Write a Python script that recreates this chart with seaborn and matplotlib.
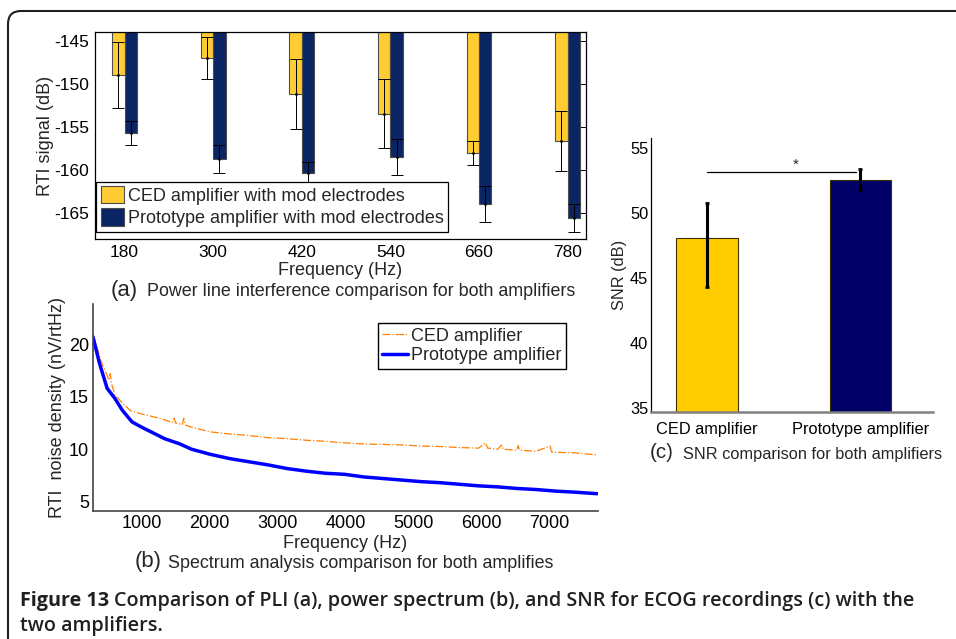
import matplotlib
matplotlib.use('Agg')
import pandas as pd
import matplotlib.pyplot as plt
import seaborn as sns
from matplotlib.patches import FancyBboxPatch
from matplotlib.transforms import IdentityTransform

# (a) power line interference, RTI signal in dB
freqs = ['180', '300', '420', '540', '660', '780']
ced_rti = [-149.0, -147.05, -151.2, -153.45, -158.05, -156.65]
ced_rti_err = [3.8, 2.45, 4.1, 4.0, 1.4, 3.5]
proto_rti = [-155.7, -158.7, -160.3, -158.45, -163.95, -165.6]
proto_rti_err = [1.35, 1.65, 1.2, 2.1, 2.1, 1.6]
pli_labels = ['CED amplifier with mod electrodes', 'Prototype amplifier with mod electrodes']

# (b) noise density spectrum (nV/rtHz)
ced_hz = [285, 408, 470, 520, 538, 560, 606, 718, 831, 1000, 1169, 1338, 1450, 1479, 1500,
          1600, 1620, 1645, 1732, 2014, 2296, 2578, 2859, 3141, 3423, 3704, 3986, 4268, 4549,
          4831, 5113, 5394, 5676, 5958, 6060, 6090, 6240, 6296, 6320, 6521, 6540, 6560, 6803,
          7011, 7030, 7085, 7366, 7704]
ced_noise = [21.0, 18.3, 17.4, 16.6, 17.2, 16.2, 15.2, 14.4, 13.7, 13.35, 13.1, 12.8, 12.55, 12.95, 12.5,
             12.35, 12.95, 12.3, 12.1, 11.65, 11.45, 11.3, 11.1, 11.0, 10.85, 10.75, 10.6, 10.5, 10.45,
             10.4, 10.3, 10.25, 10.15, 10.1, 10.6, 10.1, 10.0, 10.4, 10.0, 9.9, 10.35, 9.9, 9.8,
             10.3, 9.75, 9.7, 9.65, 9.45]
proto_hz = [285, 380, 493, 606, 718, 859, 1000, 1169, 1338, 1563, 1732, 2014, 2296, 2578, 2859,
            3141, 3423, 3704, 3986, 4268, 4549, 4831, 5113, 5394, 5676, 5958, 6240, 6521, 6803,
            7085, 7366, 7704]
proto_noise = [20.7, 18.2, 15.8, 14.85, 13.7, 12.6, 12.1, 11.55, 11.0, 10.5, 10.0, 9.5, 9.1, 8.8, 8.5,
               8.15, 7.9, 7.7, 7.6, 7.35, 7.2, 7.05, 6.9, 6.8, 6.65, 6.5, 6.4, 6.25, 6.15,
               6.0, 5.9, 5.75]
spec_labels = ['CED amplifier', 'Prototype amplifier']

# (c) SNR
snr_groups = ['CED amplifier', 'Prototype amplifier']
snr_db = [48.08, 52.56]
snr_err_low = [3.73, 0.8]
snr_err_high = [2.69, 0.82]
sig_level = 53.15

W, H = 956, 639
TXT = '#231f20'

sns.set_style('white')
plt.rcParams['font.family'] = ['Liberation Sans', 'DejaVu Sans']
plt.rcParams['axes.unicode_minus'] = False

fig = plt.figure(figsize=(W / 100, H / 100), dpi=100)


def px_axes(left, right, top, bottom):
    return fig.add_axes([left / W, 1 - bottom / H, (right - left) / W, (bottom - top) / H])


# ---------- panel (a)
ax_a = px_axes(95, 586, 32, 239)
pli = pd.DataFrame({
    'freq': freqs * 2,
    'amp': [pli_labels[0]] * len(freqs) + [pli_labels[1]] * len(freqs),
    'rti': ced_rti + proto_rti,
    'err': ced_rti_err + proto_rti_err,
})
sns.barplot(data=pli, x='freq', y='rti', hue='amp', hue_order=pli_labels,
            palette=['#ffcc33', '#0b2464'], width=0.28, saturation=1, errorbar=None,
            edgecolor='#4d4d4d', linewidth=0.8, legend=False, ax=ax_a)
for cont, lab in zip(ax_a.containers, pli_labels):
    sub = pli[pli['amp'] == lab]
    xs = [p.get_x() + p.get_width() / 2 for p in cont.patches]
    ax_a.errorbar(xs, sub['rti'], yerr=sub['err'], fmt='.', ms=2, color='k',
                  elinewidth=0.7, capsize=4.3, capthick=0.7, zorder=3)
ax_a.set_ylim(-168, -144)
ax_a.set_yticks([-165, -160, -155, -150, -145])
ax_a.set_xlim(-0.333, 5.207)
ax_a.tick_params(direction='in', length=4, width=0.7, top=True, right=True,
                 labelsize=12.5, pad=4, colors='k')
for s in ax_a.spines.values():
    s.set_visible(True)
    s.set_color('k')
    s.set_linewidth(0.9)
ax_a.set_xlabel('Frequency (Hz)', fontsize=13, labelpad=2)
ax_a.set_ylabel('RTI signal (dB)', fontsize=13, labelpad=0)
ax_a.legend(ax_a.containers, pli_labels, loc='lower left', bbox_to_anchor=(0.003, 0.035),
            borderaxespad=0, fontsize=13, frameon=True, fancybox=False, edgecolor='k',
            framealpha=1, handlelength=1.25, handleheight=1.1, handletextpad=0.25,
            borderpad=0.25, labelspacing=0.2)
ax_a.get_legend().get_frame().set_linewidth(0.9)

# ---------- panel (b)
ax_b = px_axes(93, 598, 304, 511)
sns.lineplot(x=ced_hz, y=ced_noise, color='#ff8000', lw=0.9, linestyle='-.',
             label=spec_labels[0], ax=ax_b)
sns.lineplot(x=proto_hz, y=proto_noise, color='#0000ff', lw=2.5,
             label=spec_labels[1], ax=ax_b)
ax_b.set_xlim(285, 7715)
ax_b.set_ylim(4.1, 23.85)
ax_b.set_xticks(range(1000, 8000, 1000))
ax_b.set_yticks([5, 10, 15, 20])
ax_b.tick_params(direction='in', length=4, width=0.7, labelsize=13, pad=3, colors='k')
for side in ['top', 'right']:
    ax_b.spines[side].set_visible(False)
for side in ['left', 'bottom']:
    ax_b.spines[side].set_color('#444444')
    ax_b.spines[side].set_linewidth(1.2)
ax_b.set_xlabel('Frequency (Hz)', fontsize=13, labelpad=2)
ax_b.set_ylabel('RTI  noise density (nV/rtHz)', fontsize=13, labelpad=2)
ax_b.legend(loc='upper left', bbox_to_anchor=(0.564, 0.908), borderaxespad=0,
            fontsize=13, frameon=True, fancybox=False, edgecolor='k', framealpha=1,
            handlelength=1.4, handletextpad=0.2, borderpad=0.25, labelspacing=0.15)
ax_b.get_legend().get_frame().set_linewidth(1.0)

# ---------- panel (c)
ax_c = px_axes(651, 933, 138, 412)
sns.barplot(x=snr_groups, y=snr_db, hue=snr_groups, palette=['#ffcc00', '#000066'],
            width=0.4, saturation=1, errorbar=None, legend=False,
            edgecolor='#3a3300', linewidth=0.8, ax=ax_c)
bar_x = [p.get_x() + p.get_width() / 2 for p in ax_c.patches]
ax_c.errorbar(bar_x, snr_db, yerr=[snr_err_low, snr_err_high], fmt='none', ecolor='k',
              elinewidth=2.2, capsize=1.5, capthick=2, zorder=3)
ax_c.plot([bar_x[0], bar_x[1] - 0.03], [sig_level, sig_level], color='k', lw=0.9)
ax_c.text((bar_x[0] + bar_x[1]) / 2 + 0.08, sig_level + 0.05, '*', ha='center',
          va='bottom', fontsize=11)
ax_c.set_ylim(34.7, 55.8)
ax_c.set_xlim(-0.365, 1.473)
ax_c.set_yticks([35, 40, 45, 50, 55])
ax_c.set_xticks([0.41, 0.6], minor=True)
ax_c.tick_params(axis='y', direction='in', length=4, width=0.7, labelsize=11.8, pad=2, colors='k')
ax_c.tick_params(axis='x', which='major', length=0, labelsize=11.8, pad=7, colors='k')
ax_c.tick_params(axis='x', which='minor', direction='in', length=3, width=0.7, colors='k')
for side in ['top', 'right']:
    ax_c.spines[side].set_visible(False)
ax_c.spines['left'].set_color('k')
ax_c.spines['left'].set_linewidth(0.9)
ax_c.spines['bottom'].set_color('#808080')
ax_c.spines['bottom'].set_linewidth(1.8)
ax_c.set_xlabel('')
ax_c.set_ylabel('SNR (dB)', fontsize=11.8, labelpad=2)

# ---------- sub-captions
def sub_caption(tag_x, text_x, base_y, tag, text, size):
    fig.text(tag_x / W, 1 - base_y / H, tag, fontsize=size + 3, va='baseline', ha='left')
    fig.text(text_x / W, 1 - base_y / H, text, fontsize=size, va='baseline', ha='left')


sub_caption(111, 146.6, 296, '(a)', 'Power line interference comparison for both amplifiers', 12.9)
sub_caption(134.7, 168.4, 567.5, '(b)', 'Spectrum analysis comparison for both amplifies', 12.9)
sub_caption(650, 683, 458.5, '(c)', 'SNR comparison for both amplifiers', 11.8)

# ---------- figure caption and frame
cap_font = ['Open Sans', 'DejaVu Sans']
t1 = fig.text(20 / W, 1 - 606 / H, 'Figure 13', fontsize=14.2, fontweight='bold',
              family=cap_font, color=TXT, va='baseline')
fig.canvas.draw()
x_end = t1.get_window_extent().x1
fig.text((x_end + 5) / W, 1 - 606 / H,
         'Comparison of PLI (a), power spectrum (b), and SNR for ECOG recordings (c) with the',
         fontsize=14.2, fontweight='semibold', family=cap_font, color=TXT, va='baseline')
fig.text(20 / W, 1 - 631 / H, 'two amplifiers.', fontsize=14.2, fontweight='semibold',
         family=cap_font, color=TXT, va='baseline')

frame = FancyBboxPatch((8, -40), 1200, H - 11 + 40, boxstyle='round,pad=0,rounding_size=13',
                       transform=IdentityTransform(), facecolor='none', edgecolor=TXT,
                       linewidth=1.5, clip_on=False)
fig.add_artist(frame)

fig.savefig('out.png', dpi=100)
